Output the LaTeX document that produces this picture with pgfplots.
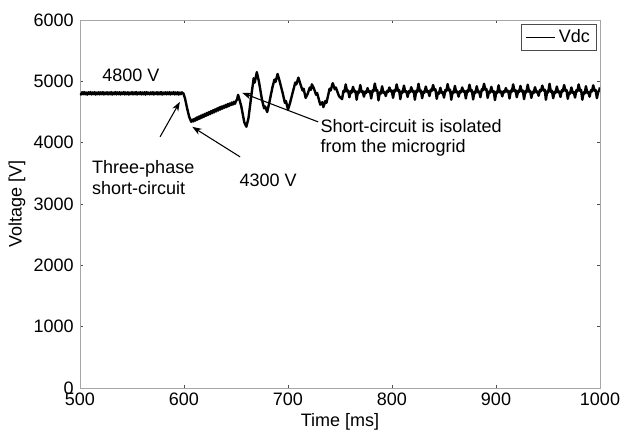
\documentclass[border=0pt]{standalone}
\usepackage{fontspec}
\setmainfont{Liberation Sans}
\usepackage{pgfplots}
\pgfplotsset{compat=1.18}
\usetikzlibrary{arrows.meta}
\begin{document}
\fontsize{13.5}{16}\selectfont
\begin{tikzpicture}
\begin{axis}[
  scale only axis,
  width=390pt, height=276pt,
  xmin=500, xmax=1000, ymin=0, ymax=6000,
  xtick={500,600,...,1000}, ytick={0,1000,...,6000},
  /pgf/number format/assume math mode=true,
  scaled ticks=false,
  yticklabel style={/pgf/number format/set thousands separator={}},
  xticklabel style={/pgf/number format/set thousands separator={}},
  tick label style={font=\fontsize{13.5}{16}\selectfont},
  label style={font=\fontsize{13.5}{16}\selectfont},
  axis line style={gray!70, line width=0.6pt},
  tick style={gray!60!black, line width=0.5pt},
  tick align=inside, major tick length=2.5pt,
  xlabel={Time [ms]}, ylabel={Voltage [V]},
  xlabel style={yshift=3pt},
  ylabel style={yshift=-3pt},
  xticklabel style={yshift=1pt},
  legend style={at={(1,1)}, anchor=north east, xshift=-2.25pt, yshift=-3pt,
    draw=black!70, line width=0.5pt, inner xsep=3pt, inner ysep=2pt,
    font=\fontsize{13.5}{16}\selectfont},
  legend image code/.code={\draw[black, line width=1.3pt] (0pt,0pt) -- (22pt,0pt);},
  legend cell align=left,
]
\addplot[black, line width=1.8pt, line join=round] coordinates {
(500,4805)(501,4785)(502,4822)(503,4790)(504,4825)(505,4788)(506,4818)(507,4783)(508,4821)(509,4792)
(510,4826)(511,4786)(512,4819)(513,4791)(514,4824)(515,4784)(516,4817)(517,4789)(518,4823)(519,4787)
(520,4820)(521,4790)(522,4825)(523,4785)(524,4818)(525,4792)(526,4822)(527,4786)(528,4819)(529,4789)
(530,4824)(531,4784)(532,4817)(533,4791)(534,4826)(535,4787)(536,4820)(537,4790)(538,4823)(539,4785)
(540,4818)(541,4792)(542,4825)(543,4786)(544,4819)(545,4789)(546,4822)(547,4784)(548,4817)(549,4791)
(550,4824)(551,4787)(552,4820)(553,4790)(554,4826)(555,4785)(556,4818)(557,4792)(558,4823)(559,4786)
(560,4819)(561,4789)(562,4822)(563,4784)(564,4825)(565,4791)(566,4817)(567,4787)(568,4820)(569,4790)
(570,4824)(571,4785)(572,4818)(573,4792)(574,4823)(575,4786)(576,4819)(577,4789)(578,4826)(579,4784)
(580,4817)(581,4791)(582,4822)(583,4787)(584,4820)(585,4790)(586,4824)(587,4785)(588,4818)(589,4792)
(590,4825)(591,4786)(592,4819)(593,4789)(594,4822)(595,4784)(596,4817)(597,4791)(598,4820)(599.5,4800)
(601,4720)(603,4560)(605,4420)(607,4340)
(608,4375)(609,4345)(610,4390)(611,4360)(612,4410)(613,4375)(614,4425)(615,4390)(616,4440)(617,4405)
(618,4455)(619,4420)(620,4470)(621,4435)(622,4485)(623,4450)(624,4500)(625,4465)(626,4515)(627,4480)
(628,4530)(629,4495)(630,4545)(631,4510)(632,4560)(633,4525)(634,4575)(635,4540)(636,4590)(637,4555)
(638,4600)(639,4570)(640,4615)(641,4580)(642,4630)(643,4595)(644,4640)(645,4610)(646,4655)(647,4620)
(648,4665)(649,4635)(650,4680)(651,4700)(652,4780)
(655,4600)(658,4330)(660,4260)(662,4400)(665,4800)(667,5050)(668,4980)(670,5150)(672,5000)(675,4700)
(677,4560)(678,4590)(680,4500)(682,4650)(685,4900)(687,5030)(688,4990)(690,5120)(692,5000)(695,4800)
(697,4650)(698,4680)(700,4540)(702,4650)(705,4850)(707,4980)(708,4950)(710,5060)(712,4950)(714,4850)
(715,4880)(717,4730)(719,4800)(721,4900)(722,4860)(723,4950)(725,4880)(727,4780)(728,4810)(731,4620)
(733,4660)(734,4580)(736,4680)(737,4650)(740,4880)(741,4850)(743,4970)(745,4870)(746,4900)(749,4760)
(752,4710)(753.3,4845)(754.2,4825)(755.5,4950)(756.8,4835)(757.8,4850)
(759,4740)(760.3,4840)(761.2,4815)(762.5,4910)(763.8,4830)(764.8,4845)
(766,4700)(767.3,4835)(768.2,4815)(769.5,4940)(770.8,4825)(771.8,4840)
(773,4750)(774.3,4835)(775.2,4810)(776.5,4890)(777.8,4825)(778.8,4840)
(780,4720)(781.3,4855)(782.2,4835)(783.5,4965)(784.8,4845)(785.8,4860)
(787,4690)(788.3,4820)(789.2,4800)(790.5,4920)(791.8,4810)(792.8,4825)
(794,4760)(795.3,4845)(796.2,4825)(797.5,4900)(798.8,4835)(799.8,4850)
(801,4730)(802.3,4855)(803.2,4835)(804.5,4950)(805.8,4845)(806.8,4860)
(808,4710)(809.3,4835)(810.2,4815)(811.5,4930)(812.8,4825)(813.8,4840)
(815,4745)(816.3,4840)(817.2,4820)(818.5,4905)(819.8,4830)(820.8,4845)
(822,4700)(823.3,4845)(824.2,4825)(825.5,4960)(826.8,4835)(827.8,4850)
(829,4725)(830.3,4835)(831.2,4815)(832.5,4915)(833.8,4825)(834.8,4840)
(836,4760)(837.3,4865)(838.2,4845)(839.5,4940)(840.8,4855)(841.8,4870)
(843,4715)(844.3,4820)(845.2,4800)(846.5,4895)(847.8,4810)(848.8,4825)
(850,4735)(851.3,4860)(852.2,4840)(853.5,4955)(854.8,4850)(855.8,4865)
(857,4700)(858.3,4830)(859.2,4810)(860.5,4925)(861.8,4820)(862.8,4835)
(864,4750)(865.3,4840)(866.2,4820)(867.5,4900)(868.8,4830)(869.8,4845)
(871,4720)(872.3,4850)(873.2,4830)(874.5,4945)(875.8,4840)(876.8,4855)
(878,4705)(879.3,4830)(880.2,4810)(881.5,4920)(882.8,4820)(883.8,4835)
(885,4740)(886.3,4870)(887.2,4850)(888.5,4960)(889.8,4860)(890.8,4875)
(892,4730)(893.3,4835)(894.2,4815)(895.5,4910)(896.8,4825)(897.8,4840)
(899,4695)(900.3,4830)(901.2,4810)(902.5,4935)(903.8,4820)(904.8,4835)
(906,4755)(907.3,4840)(908.2,4820)(909.5,4890)(910.8,4830)(911.8,4845)
(913,4720)(914.3,4850)(915.2,4830)(916.5,4950)(917.8,4840)(918.8,4855)
(920,4740)(921.3,4845)(922.2,4825)(923.5,4925)(924.8,4835)(925.8,4850)
(927,4710)(928.3,4840)(929.2,4820)(930.5,4945)(931.8,4830)(932.8,4845)
(934,4730)(935.3,4830)(936.2,4810)(937.5,4905)(938.8,4820)(939.8,4835)
(941,4765)(942.3,4860)(943.2,4840)(944.5,4930)(945.8,4850)(946.8,4865)
(948,4700)(949.3,4840)(950.2,4820)(951.5,4960)(952.8,4830)(953.8,4845)
(955,4725)(956.3,4830)(957.2,4810)(958.5,4915)(959.8,4820)(960.8,4835)
(962,4745)(963.3,4855)(964.2,4835)(965.5,4940)(966.8,4845)(967.8,4860)
(969,4715)(970.3,4820)(971.2,4800)(972.5,4900)(973.8,4810)(974.8,4825)
(976,4735)(977.3,4855)(978.2,4835)(979.5,4950)(980.8,4845)(981.8,4860)
(983,4700)(984.3,4820)(985.2,4800)(986.5,4920)(987.8,4810)(988.8,4825)
(990,4750)(991.3,4855)(992.2,4835)(993.5,4935)(994.8,4845)(995.8,4860)
(997,4725)(998.3,4830)(999.2,4850)(1000,4900)
};
\addlegendentry{Vdc}
\node at (axis cs:549,5106) {4800 V};
\node[anchor=west, align=left, inner sep=0pt, font=\fontsize{13.5}{15.5}\selectfont] at (axis cs:511.5,3434) {Three-phase\\short-circuit};
\draw[black, line width=0.8pt, -{Stealth[length=7pt,width=5pt]}] (axis cs:577,4095) -- (axis cs:596,4666);
\node at (axis cs:681,3393) {4300 V};
\draw[black, line width=0.8pt, -{Stealth[length=7pt,width=5pt]}] (axis cs:654,3768) -- (axis cs:608,4258);
\node[anchor=west, align=left, inner sep=0pt, font=\fontsize{13.5}{15.5}\selectfont] at (axis cs:731,4078) {Short-circuit is isolated\\from the microgrid};
\draw[black, line width=0.8pt, -{Stealth[length=7pt,width=5pt]}] (axis cs:729,4339) -- (axis cs:656,4812);
\coordinate (bl) at (rel axis cs:0,0);
\coordinate (tr) at (rel axis cs:1,1);
\end{axis}
\pgfresetboundingbox
\useasboundingbox ([xshift=-60pt,yshift=-32.25pt]bl) rectangle ([xshift=16.5pt,yshift=15pt]tr);
\end{tikzpicture}
\end{document}
